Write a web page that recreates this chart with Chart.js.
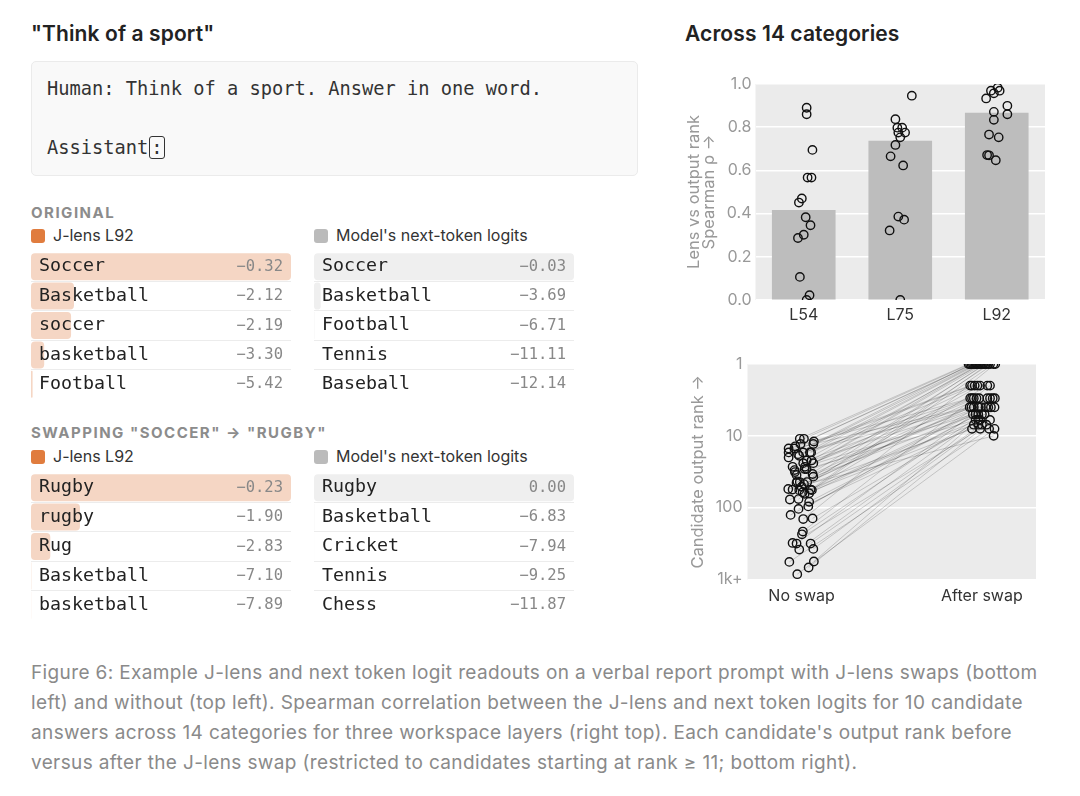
<!DOCTYPE html>
<html>
<head>
<meta charset="utf-8">
<script src="https://cdn.jsdelivr.net/npm/chart.js@4.4.1/dist/chart.umd.min.js"></script>
<style>
  body { margin: 0; background: #fff; font-family: Inter, "Noto Sans", sans-serif; }
  #page { position: relative; width: 1080px; height: 796px; overflow: hidden; }
  .abs { position: absolute; white-space: nowrap; }
  .title { font-size: 21px; font-weight: 600; color: #222; line-height: 24px; letter-spacing: 0.1px; }
  .mono { font-family: "DejaVu Sans Mono", monospace; }
  .prompt { left: 31px; top: 61px; width: 607px; height: 115px; box-sizing: border-box;
            background: #f9f9f9; border: 1px solid #ebebeb; border-radius: 5px; }
  .pline { left: 47px; font-size: 18.7px; line-height: 24px; color: #333; }
  .cursor { border: 1.5px solid #333; border-radius: 3px; padding: 0 1px; margin-left: 1px; }
  .section { font-size: 15px; font-weight: 700; color: #8c8c8c; letter-spacing: 1.5px; line-height: 18px; }
  .legend { font-size: 16px; color: #333; line-height: 20px; }
  .swatch { display: inline-block; width: 14px; height: 14px; border-radius: 3px; vertical-align: -2px; margin-right: 8px; }
  .caption { left: 31px; top: 658px; font-size: 19px; letter-spacing: 0.37px; line-height: 30px; color: #8a8a8a; }
  canvas { position: absolute; }
</style>
</head>
<body>
<div id="page">
  <div class="abs title" style="left:31px; top:22px;">"Think of a sport"</div>
  <div class="abs title" style="left:685px; top:22px;">Across 14 categories</div>

  <div class="abs prompt"></div>
  <div class="abs mono pline" style="top:77px;">Human: Think of a sport. Answer in one word.</div>
  <div class="abs mono pline" style="top:136px;">Assistant<span class="cursor">:</span></div>

  <div class="abs section" style="left:31px; top:204px;">ORIGINAL</div>
  <div class="abs legend" style="left:31px; top:225px;"><span class="swatch" style="background:#e07c3e"></span>J-lens L92</div>
  <div class="abs legend" style="left:314px; top:225px;"><span class="swatch" style="background:#bbbbbb"></span>Model's next-token logits</div>
  <canvas id="origLens" width="260" height="147" style="left:31px; top:252px;"></canvas>
  <canvas id="origModel" width="260" height="147" style="left:314px; top:252px;"></canvas>

  <div class="abs section" style="left:31px; top:424px;">SWAPPING "SOCCER" → "RUGBY"</div>
  <div class="abs legend" style="left:31px; top:446px;"><span class="swatch" style="background:#e07c3e"></span>J-lens L92</div>
  <div class="abs legend" style="left:314px; top:446px;"><span class="swatch" style="background:#bbbbbb"></span>Model's next-token logits</div>
  <canvas id="swapLens" width="260" height="147" style="left:31px; top:473px;"></canvas>
  <canvas id="swapModel" width="260" height="147" style="left:314px; top:473px;"></canvas>

  <canvas id="rhoChart" width="380" height="270" style="left:680px; top:60px;"></canvas>
  <canvas id="rankChart" width="380" height="270" style="left:680px; top:340px;"></canvas>

  <div class="abs caption">Figure 6: Example J-lens and next token logit readouts on a verbal report prompt with J-lens swaps (bottom<br>left) and without (top left). Spearman correlation between the J-lens and next token logits for 10 candidate<br>answers across 14 categories for three workspace layers (right top). Each candidate's output rank before<br>versus after the J-lens swap (restricted to candidates starting at rank ≥ 11; bottom right).</div>
</div>

<script>
// top-5 readouts, left panel
const origLensTokens = ["Soccer", "Basketball", "soccer", "basketball", "Football"];
const origLensLogits = [-0.32, -2.12, -2.19, -3.30, -5.42];
const origModelTokens = ["Soccer", "Basketball", "Football", "Tennis", "Baseball"];
const origModelLogits = [-0.03, -3.69, -6.71, -11.11, -12.14];
const swapLensTokens = ["Rugby", "rugby", "Rug", "Basketball", "basketball"];
const swapLensLogits = [-0.23, -1.90, -2.83, -7.10, -7.89];
const swapModelTokens = ["Rugby", "Basketball", "Cricket", "Tennis", "Chess"];
const swapModelLogits = [0.00, -6.83, -7.94, -9.25, -11.87];

// spearman rho per layer (right top)
const layers = ["L54", "L75", "L92"];
const layerMeans = [0.415, 0.736, 0.865];
const rhoL54 = [0.89, 0.86, 0.695, 0.567, 0.567, 0.47, 0.451, 0.383, 0.346, 0.302, 0.287, 0.107, 0.022, 0.0];
const jitL54 = [0.03, 0.03, 0.09, 0.04, 0.08, -0.02, -0.05, 0.02, 0.07, 0.0, -0.06, -0.04, 0.06, 0.03];
const rhoL75 = [0.946, 0.837, 0.798, 0.798, 0.775, 0.775, 0.753, 0.718, 0.665, 0.623, 0.386, 0.372, 0.322, 0.0];
const jitL75 = [0.12, -0.05, -0.03, 0.02, -0.02, 0.05, 0.0, -0.05, -0.1, 0.03, -0.02, 0.04, -0.11, 0.0];
const rhoL92 = [0.983, 0.969, 0.969, 0.957, 0.933, 0.899, 0.871, 0.86, 0.834, 0.766, 0.753, 0.671, 0.67, 0.647];
const jitL92 = [0.01, -0.06, 0.03, -0.03, -0.11, 0.11, -0.03, 0.11, -0.03, -0.08, 0.02, -0.1, -0.08, -0.01];

// candidate output rank before / after swap (right bottom)
const swapLabels = ["No swap", "After swap"];
const rankTicks = [1, 10, 100, 1000];
const noSwapRank = [11, 11, 12, 13, 15, 14, 15, 13, 17, 20,
  18, 19, 17, 17, 17, 22, 22, 24, 27, 24,
  27, 30, 32, 35, 29, 29, 34, 37, 43, 45,
  44, 44, 47, 51, 56, 57, 55, 56, 57, 61,
  64, 63, 77, 76, 83, 96, 104, 126, 144, 141,
  215, 235, 310, 316, 383, 316, 375, 569, 562, 681, 843];
const noSwapJit = [-0.01, 0.013, 0.068, 0.065, -0.072, -0.035, -0.04, -0.006, -0.072, -0.072,
  -0.02, -0.013, 0.009, 0.046, 0.053, 0.028, 0.055, 0.009, 0.018, 0.065,
  -0.05, -0.039, -0.037, -0.028, 0.017, 0.028, 0.061, 0.065, -0.024, -0.028,
  -0.01, 0.031, 0.013, 0, 0.05, 0.057, -0.074, -0.05, -0.013, 0.006,
  0.017, 0.042, -0.065, -0.017, 0.042, 0.037, -0.017, -0.061, 0.009, 0.061,
  0.007, 0.002, -0.05, -0.028, -0.013, 0.05, 0.065, -0.068, 0.068, 0.039, -0.024];
const afterRank = [1, 1, 2, 1, 3, 1, 4, 1, 2, 1,
  3, 1, 4, 1, 2, 3, 1, 4, 5, 1,
  1, 3, 2, 4, 1, 6, 3, 1, 4, 1,
  5, 2, 3, 7, 1, 4, 10, 3, 1, 6,
  2, 4, 8, 1, 5, 3, 7, 4, 1, 6,
  2, 5, 8, 3, 4, 7, 6, 8, 5, 7, 8];
const afterJit = [-0.074, -0.066, -0.065, -0.058, -0.065, -0.05, -0.068, -0.043, -0.055, -0.036,
  -0.055, -0.029, -0.058, -0.022, -0.04, -0.045, -0.015, -0.045, -0.05, -0.008,
  0, -0.03, -0.025, -0.02, 0.008, -0.035, -0.015, 0.016, -0.005, 0.024,
  -0.035, -0.01, 0.03, -0.045, 0.035, 0.02, 0.065, 0.045, 0.045, -0.02,
  0.03, 0.035, -0.055, 0.064, -0.02, 0.06, -0.02, 0.05, 0.074, -0.01,
  0.045, 0, -0.01, 0.072, 0.07, 0, 0.045, 0.04, 0.015, 0.025, 0.07];

Chart.defaults.font.family = 'Inter, "Noto Sans", sans-serif';
Chart.defaults.animation = false;
Chart.defaults.plugins.legend.display = false;
Chart.defaults.plugins.tooltip.enabled = false;

const fmtLogit = v => v === 0 ? "0.00" : "\u2212" + Math.abs(v).toFixed(2);

// gray panel behind the plot area
const plotBg = {
  id: 'plotBg',
  beforeDraw(chart) {
    const { ctx, chartArea: a } = chart;
    ctx.save();
    ctx.fillStyle = '#ebebeb';
    ctx.fillRect(a.left, a.top, a.right - a.left, a.bottom - a.top);
    ctx.restore();
  }
};

// mirrored label axes take no room at all
const flatAxis = s => { s.width = 0; s.paddingTop = 0; s.paddingBottom = 0; };

// one readout table: bar width = exp(logit - top logit)
const makeTable = (id, tokens, logits, fill) => {
  const top = Math.max(...logits);
  new Chart(document.getElementById(id), {
    type: 'bar',
    data: {
      labels: tokens,
      datasets: [{
        data: logits.map(v => Math.exp(v - top)),
        backgroundColor: fill,
        borderRadius: 4,
        borderSkipped: false,
        barPercentage: 0.92,
        categoryPercentage: 1
      }]
    },
    options: {
      indexAxis: 'y',
      responsive: false,
      layout: { padding: 0, autoPadding: false },
      scales: {
        x: { display: false, min: 0, max: 1 },
        y: {
          offset: true,
          grid: {
            offset: true,
            drawTicks: false,
            color: c => (c.type !== 'tick' || c.index === 0) ? 'rgba(0,0,0,0)' : '#ececec'
          },
          border: { display: false },
          ticks: { mirror: true, padding: 8, z: 1, color: '#222',
                   font: { family: '"DejaVu Sans Mono", monospace', size: 18.3 } },
          afterFit: flatAxis
        },
        y2: {
          type: 'category',
          position: 'right',
          labels: logits.map(fmtLogit),
          offset: true,
          grid: { display: false, offset: true, drawTicks: false },
          border: { display: false },
          ticks: { mirror: true, padding: -8, z: 1, color: '#888',
                   font: { family: '"DejaVu Sans Mono", monospace', size: 15.5 } },
          afterFit: flatAxis
        }
      }
    }
  });
};

makeTable('origLens', origLensTokens, origLensLogits, '#f5d6c4');
makeTable('origModel', origModelTokens, origModelLogits, '#efefef');
makeTable('swapLens', swapLensTokens, swapLensLogits, '#f5d6c4');
makeTable('swapModel', swapModelTokens, swapModelLogits, '#efefef');

// right top: mean rho bars with per-category points
const rhoPoints = [];
[rhoL54, rhoL75, rhoL92].forEach((vals, i) => {
  const jit = [jitL54, jitL75, jitL92][i];
  vals.forEach((v, j) => rhoPoints.push({ x: i + jit[j], y: v }));
});

new Chart(document.getElementById('rhoChart'), {
  type: 'scatter',
  data: {
    datasets: [
      {
        type: 'scatter',
        data: rhoPoints,
        pointRadius: 4.2,
        borderWidth: 1.4,
        borderColor: '#111',
        backgroundColor: 'rgba(0,0,0,0)',
        order: 0
      },
      {
        type: 'bar',
        data: layerMeans.map((v, i) => ({ x: i, y: v })),
        backgroundColor: '#bdbdbd',
        barThickness: 63,
        order: 1
      }
    ]
  },
  options: {
    responsive: false,
    layout: { padding: { top: 24, right: 15, left: 0, bottom: 0 }, autoPadding: false },
    scales: {
      x: {
        type: 'linear', min: -0.5, max: 2.5, offset: false,
        grid: { display: false, drawTicks: false }, border: { display: false },
        afterBuildTicks: s => { s.ticks = layers.map((_, i) => ({ value: i })); },
        ticks: { callback: v => layers[v], color: '#333', font: { size: 16 }, padding: 6 },
        afterFit: s => { s.height = 30; }
      },
      y: {
        min: 0, max: 1,
        grid: { color: '#fff', lineWidth: 1.5, drawTicks: false },
        border: { display: false },
        ticks: { stepSize: 0.2, callback: v => v.toFixed(1), color: '#999', font: { size: 16 }, padding: 4 },
        title: { display: true, text: ['Lens vs output rank', 'Spearman \u03c1 \u2192'], color: '#999',
                 font: { size: 16.5, lineHeight: 0.91 }, padding: { top: 7, bottom: 0 } },
        afterFit: s => { s.width = 75.5; }
      }
    }
  },
  plugins: [plotBg]
});

// right bottom: rank before vs after, one thin line per candidate
const pairLines = noSwapRank.map((r, i) => ({
  type: 'line',
  data: [{ x: noSwapJit[i], y: r }, { x: 1 + afterJit[i], y: afterRank[i] }],
  borderColor: 'rgba(0,0,0,0.22)',
  borderWidth: 0.8,
  pointRadius: 0,
  order: 1
}));

const dotStyle = { pointRadius: 4.2, borderWidth: 1.4, borderColor: '#111', backgroundColor: 'rgba(0,0,0,0)', order: 0 };

new Chart(document.getElementById('rankChart'), {
  type: 'scatter',
  data: {
    datasets: [
      { ...dotStyle, data: noSwapRank.map((r, i) => ({ x: noSwapJit[i], y: r })) },
      { ...dotStyle, data: afterRank.map((r, i) => ({ x: 1 + afterJit[i], y: r })) },
      ...pairLines
    ]
  },
  options: {
    responsive: false,
    layout: { padding: { top: 24, right: 24, left: 0, bottom: 0 }, autoPadding: false },
    scales: {
      x: {
        type: 'linear', min: -0.3, max: 1.3,
        grid: { display: false, drawTicks: false }, border: { display: false },
        afterBuildTicks: s => { s.ticks = swapLabels.map((_, i) => ({ value: i })); },
        ticks: { callback: v => swapLabels[v], color: '#333', font: { size: 16 }, padding: 7 },
        afterFit: s => { s.height = 30.5; }
      },
      y: {
        type: 'logarithmic', reverse: true, min: 1, max: 1000,
        grid: { color: '#fff', lineWidth: 1.5, drawTicks: false },
        border: { display: false },
        afterBuildTicks: s => { s.ticks = rankTicks.map(v => ({ value: v })); },
        ticks: { callback: v => v >= 1000 ? '1k+' : String(v), color: '#999', font: { size: 16 }, padding: 5 },
        title: { display: true, text: 'Candidate output rank \u2192', color: '#999',
                 font: { size: 16.5, lineHeight: 0.91 }, padding: { top: 10.8, bottom: 0 } },
        afterFit: s => { s.width = 67.5; }
      }
    }
  },
  plugins: [plotBg]
});
</script>
</body>
</html>
